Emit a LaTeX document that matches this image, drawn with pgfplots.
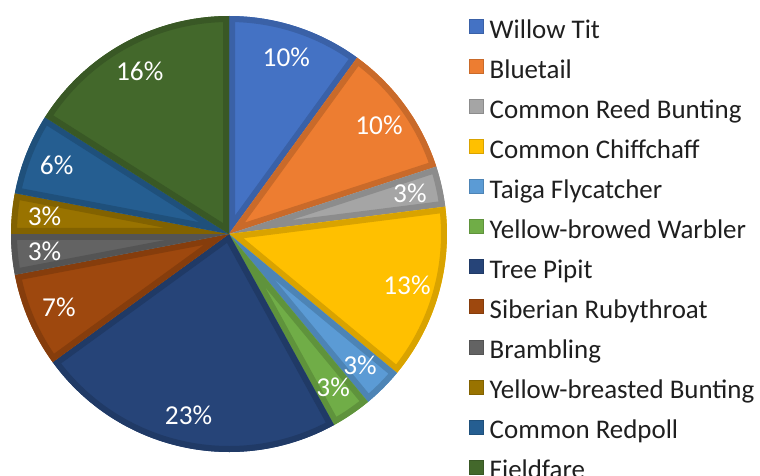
\documentclass[border=0pt]{standalone}
\usepackage{pgfplots}
\pgfplotsset{compat=1.18}
\usepackage{pgfplotstable}
\usepackage{fontspec}
\setmainfont{Carlito}

\definecolor{c1}{HTML}{4472C4}
\definecolor{c2}{HTML}{ED7D31}
\definecolor{c3}{HTML}{A5A5A5}
\definecolor{c4}{HTML}{FFC000}
\definecolor{c5}{HTML}{5B9BD5}
\definecolor{c6}{HTML}{70AD47}
\definecolor{c7}{HTML}{264478}
\definecolor{c8}{HTML}{9E480E}
\definecolor{c9}{HTML}{636363}
\definecolor{c10}{HTML}{997300}
\definecolor{c11}{HTML}{255E91}
\definecolor{c12}{HTML}{43682B}

\pgfplotstableread[col sep=comma]{
name,value,col
Willow Tit,10,c1
Bluetail,10,c2
Common Reed Bunting,3,c3
Common Chiffchaff,13,c4
Taiga Flycatcher,3,c5
Yellow-browed Warbler,3,c6
Tree Pipit,23,c7
Siberian Rubythroat,7,c8
Brambling,3,c9
Yellow-breasted Bunting,3,c10
Common Redpoll,6,c11
Fieldfare,16,c12
}\birds

\def\cx{171.75}
\def\cy{180.75}
\def\R{163.5pt}

\begin{document}
\begin{tikzpicture}
\path[use as bounding box, clip] (0,0) rectangle (570pt,356.25pt);
\begin{axis}[
  x=1pt, y=1pt,
  xmin=0, xmax=570, ymin=0, ymax=356.25,
  anchor=south west, at={(0,0)},
  hide axis, enlargelimits=false, clip=false,
  legend image code/.code={\filldraw[#1, line width=0.6pt] (0pt,-0.5pt) rectangle (10.5pt,10pt);},
  legend style={at={(axis cs:351.5,342.2)}, anchor=north west, draw=none, fill=none,
    inner sep=0pt, row sep=11.75pt, column sep=4.5pt,
    font=\fontsize{20.2}{24}\selectfont,
    nodes={inner sep=0pt, text height=12pt, text depth=4pt, text=black!88}},
  legend cell align=left,
]
\addlegendimage{fill=c1,draw=c1!85!black}\addlegendentry{Willow Tit}
\addlegendimage{fill=c2,draw=c2!85!black}\addlegendentry{Bluetail}
\addlegendimage{fill=c3,draw=c3!85!black}\addlegendentry{Common Reed Bunting}
\addlegendimage{fill=c4,draw=c4!85!black}\addlegendentry{Common Chiffchaff}
\addlegendimage{fill=c5,draw=c5!85!black}\addlegendentry{Taiga Flycatcher}
\addlegendimage{fill=c6,draw=c6!85!black}\addlegendentry{Yellow-browed Warbler}
\addlegendimage{fill=c7,draw=c7!85!black}\addlegendentry{Tree Pipit}
\addlegendimage{fill=c8,draw=c8!85!black}\addlegendentry{Siberian Rubythroat}
\addlegendimage{fill=c9,draw=c9!85!black}\addlegendentry{Brambling}
\addlegendimage{fill=c10,draw=c10!85!black}\addlegendentry{Yellow-breasted Bunting}
\addlegendimage{fill=c11,draw=c11!85!black}\addlegendentry{Common Redpoll}
\addlegendimage{fill=c12,draw=c12!85!black}\addlegendentry{Fieldfare}

\pgfplotsextra{
  \pgfplotstablegetrowsof{\birds}%
  \pgfmathtruncatemacro\nrows{\pgfplotsretval-1}%
  \gdef\cum{0}%
  \foreach \i in {0,...,\nrows}{
    \pgfplotstablegetelem{\i}{value}\of\birds \let\v\pgfplotsretval
    \pgfplotstablegetelem{\i}{col}\of\birds \let\c\pgfplotsretval
    \pgfmathsetmacro\a{90-3.6*\cum}
    \pgfmathsetmacro\b{90-3.6*(\cum+\v)}
    \pgfmathsetmacro\m{(\a+\b)/2}
    \fill[\c] (axis cs:\cx,\cy) -- ++(\a:\R) arc[start angle=\a, end angle=\b, radius=\R] -- cycle;
    \begin{scope}
      \clip (axis cs:\cx,\cy) -- ++(\a:\R) arc[start angle=\a, end angle=\b, radius=\R] -- cycle;
      \draw[draw=\c!85!black, line width=9pt] (axis cs:\cx,\cy) -- ++(\a:\R) arc[start angle=\a, end angle=\b, radius=\R] -- cycle;
    \end{scope}
    \path (axis cs:\cx,\cy) ++(\m:139pt) node[text=white, font=\fontsize{20.5}{23}\selectfont, inner sep=0pt] {\v\%};
    \pgfmathsetmacro\newcum{\cum+\v}
    \xdef\cum{\newcum}
  }
}
\end{axis}
\end{tikzpicture}
\end{document}
